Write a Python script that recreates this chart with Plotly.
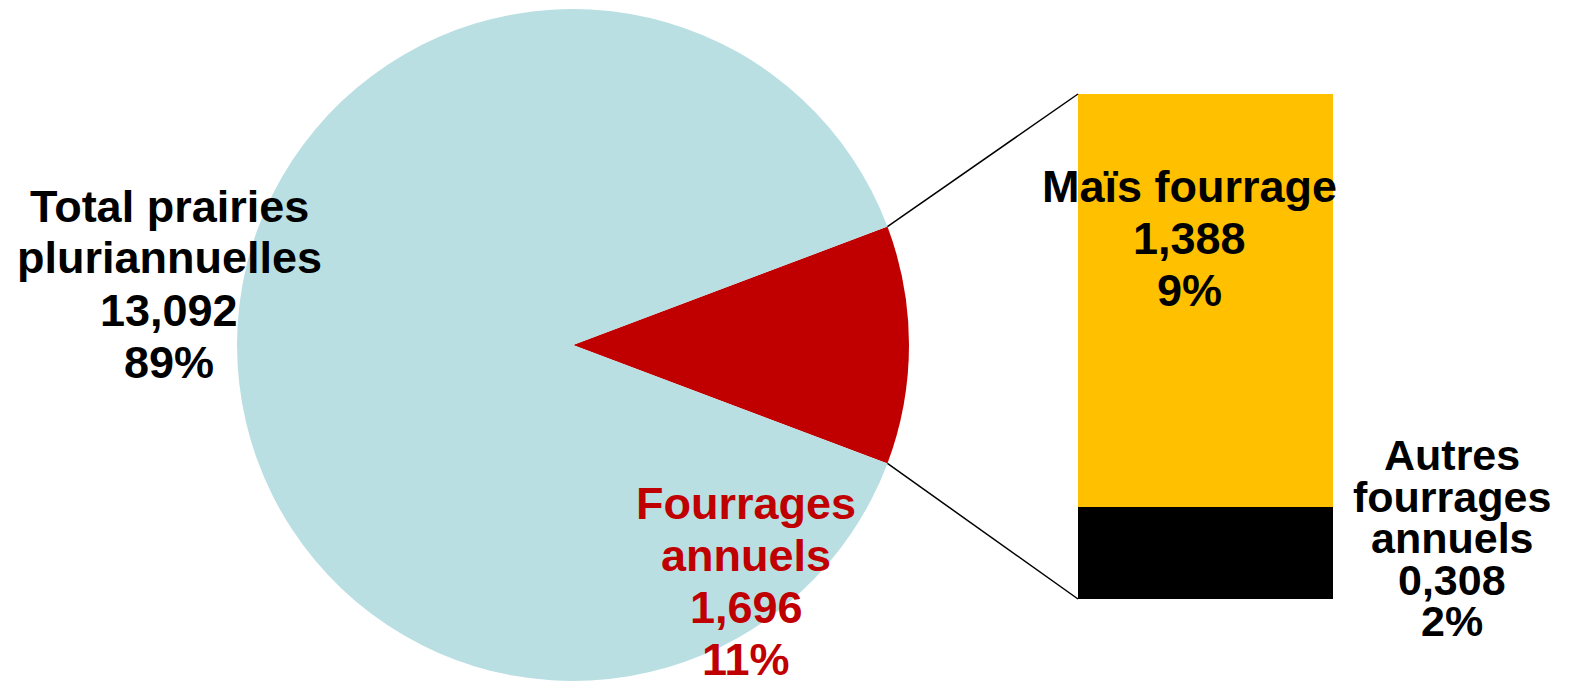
import math
import plotly.graph_objects as go

# ---- data ----
pie_labels = ["Fourrages annuels", "Total prairies pluriannuelles"]
pie_values = [1.696, 13.092]
pie_pcts = ["11%", "89%"]
pie_colors = ["#C00000", "#B9DFE3"]

bar_labels = ["Autres fourrages annuels", "Maïs fourrage"]
bar_values = [0.308, 1.388]
bar_pcts = ["2%", "9%"]
bar_colors = ["#000000", "#FFC000"]

W, H = 1579, 681

# ---- geometry (pixels) ----
cx, cy, r = 573, 345, 336
bar_left_px, bar_right_px = 1078, 1333
bar_bottom_px, bar_top_px = 599, 94

def px_x(x):
    return x / W

def px_y(y):
    return (H - y) / H

total = sum(pie_values)
frac = pie_values[0] / total
half_angle = frac * 180.0

fig = go.Figure()

fig.add_trace(go.Pie(
    labels=pie_labels,
    values=pie_values,
    sort=False,
    direction="clockwise",
    rotation=90 - half_angle,
    marker=dict(colors=pie_colors, line=dict(width=0)),
    textinfo="none",
    hoverinfo="label+value+percent",
    showlegend=False,
    domain=dict(x=[px_x(cx - r), px_x(cx + r)], y=[px_y(cy + r), px_y(cy - r)]),
))

for lab, val, col in zip(bar_labels, bar_values, bar_colors):
    fig.add_trace(go.Bar(
        x=[0], y=[val], name=lab, width=1,
        marker=dict(color=col, line=dict(width=0)),
        showlegend=False, xaxis="x", yaxis="y",
    ))

bar_total = sum(bar_values)

fig.update_layout(
    width=W, height=H, autosize=False,
    margin=dict(l=0, r=0, t=0, b=0),
    paper_bgcolor="white", plot_bgcolor="rgba(0,0,0,0)",
    barmode="stack", bargap=0,
    xaxis=dict(domain=[px_x(bar_left_px), px_x(bar_right_px)], range=[-0.5, 0.5],
               visible=False, fixedrange=True),
    yaxis=dict(domain=[px_y(bar_bottom_px), px_y(bar_top_px)], range=[0, bar_total],
               visible=False, fixedrange=True),
)

# connector lines from pie edge to bar corners
ex = cx + r * math.cos(math.radians(half_angle))
ey_top = cy - r * math.sin(math.radians(half_angle))
ey_bot = cy + r * math.sin(math.radians(half_angle))
for (py0, py1) in [(ey_top, bar_top_px), (ey_bot, bar_bottom_px)]:
    fig.add_shape(type="line", xref="paper", yref="paper",
                  x0=px_x(ex), y0=px_y(py0), x1=px_x(bar_left_px), y1=px_y(py1),
                  line=dict(color="black", width=1.5))

FONT = "Arial, 'Liberation Sans', sans-serif"

def block(lines, x, y0, pitch, color, size=45):
    for i, t in enumerate(lines):
        fig.add_annotation(
            text=t, xref="paper", yref="paper",
            x=px_x(x), y=px_y(y0 + i * pitch),
            xanchor="center", yanchor="middle", showarrow=False,
            font=dict(family=FONT, size=size, color=color, weight="bold"),
        )

def fmt(v):
    return f"{v:.3f}".replace(".", ",")

block(["Total prairies", "pluriannuelles", fmt(pie_values[1]), pie_pcts[1]],
      169, 206, 52, "black")
block(["Fourrages", "annuels", fmt(pie_values[0]), pie_pcts[0]],
      746, 503, 52, "#C00000")
block(["Maïs fourrage", fmt(bar_values[1]), bar_pcts[1]],
      1189, 186, 52, "black")
block(["Autres", "fourrages", "annuels", fmt(bar_values[0]), bar_pcts[0]],
      1452, 455, 41.5, "black", size=43)

fig.write_html(
    "out.html",
    config={"displayModeBar": False},
    post_script="document.body.style.margin='0';document.body.style.overflow='hidden';",
)
